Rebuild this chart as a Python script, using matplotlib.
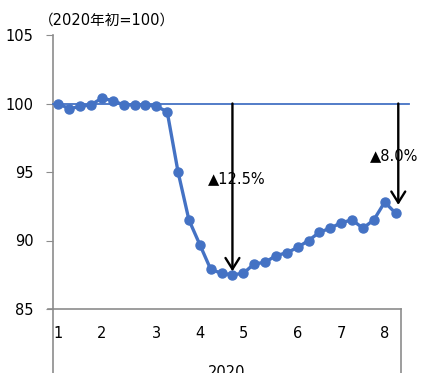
import matplotlib.pyplot as plt
import numpy as np

# 週次指数（2020年初=100）
index_values = [100.0, 99.6, 99.8, 99.9, 100.4, 100.2, 99.9, 99.9, 99.9, 99.8,
                99.4, 95.0, 91.5, 89.7, 87.9, 87.6, 87.5, 87.6, 88.3, 88.4,
                88.9, 89.1, 89.5, 90.0, 90.6, 90.9, 91.3, 91.5, 90.9, 91.5,
                92.8, 92.0]
month_pos = [0, 4, 9, 13, 17, 22, 26, 30]
month_labels = ["1", "2", "3", "4", "5", "6", "7", "8"]
year_label = "2020"
base = 100

BLUE = "#4472C4"
GRAY = "#8C8C8C"

plt.rcParams['font.family'] = ['DejaVu Sans', 'Noto Sans CJK JP']

fig = plt.figure(figsize=(4.22, 3.73), dpi=100)
ax = fig.add_axes([53 / 422, 1 - 309 / 373, 348 / 422, 274 / 373])

weeks = np.arange(len(index_values))
ax.plot(weeks, index_values, color=BLUE, lw=2.4, marker="o", ms=6.5, zorder=4)

# 基準線（100）
ax.plot([-0.5, 32.25], [base, base], color=BLUE, lw=1.3, clip_on=False, zorder=3)

ax.set_xlim(-0.5, len(index_values) - 0.5)
ax.set_ylim(85, 105)
ax.set_yticks([85, 90, 95, 100, 105])
ax.tick_params(axis="y", length=5, color=GRAY, labelsize=10.5, pad=9)
ax.set_xticks(month_pos)
ax.set_xticklabels(month_labels)
ax.tick_params(axis="x", length=0, labelsize=10.5, pad=12)

for side in ["top", "right"]:
    ax.spines[side].set_visible(False)
for side in ["left", "bottom"]:
    ax.spines[side].set_color(GRAY)
    ax.spines[side].set_linewidth(1.2)

# 多段ラベルの区切り線
ext = -64 / 274
ax.plot([0, 0], [0, ext], transform=ax.transAxes, color=GRAY, lw=1.2, clip_on=False)
ax.plot([1, 1], [0, ext], transform=ax.transAxes, color=GRAY, lw=1.2, clip_on=False)
ax.plot([-5 / 348, 0], [0, 0], transform=ax.transAxes, color=GRAY, lw=1.2, clip_on=False)
ax.text(0.5, -56 / 274, year_label, transform=ax.transAxes, ha="center", va="top",
        fontsize=10.5)

# 下落幅の矢印
low_idx = int(np.argmin(index_values))
low = index_values[low_idx]
last = index_values[-1]
arrow = dict(arrowstyle="->,head_length=0.4,head_width=0.25", lw=1.7, color="black",
             mutation_scale=20, shrinkA=0, shrinkB=0)
ax.annotate("", xy=(low_idx, low + 0.25), xytext=(low_idx, base), arrowprops=arrow, zorder=5)
ax.annotate("", xy=(31.25, last + 0.6), xytext=(31.25, base), arrowprops=arrow,
            annotation_clip=False, zorder=5)

ax.text(16.4, 94.55, "▲{:.1f}%".format(base - low), ha="center", va="center",
        fontsize=10.5, zorder=6)
ax.text(30.9, 96.17, "▲{:.1f}%".format(base - last), ha="center", va="center",
        fontsize=10.5, zorder=6)

fig.text(39 / 422, 1 - 20 / 373, "（2020年初=100）", ha="left", va="center",
         fontsize=10.5)

fig.savefig("out.png", dpi=100)
